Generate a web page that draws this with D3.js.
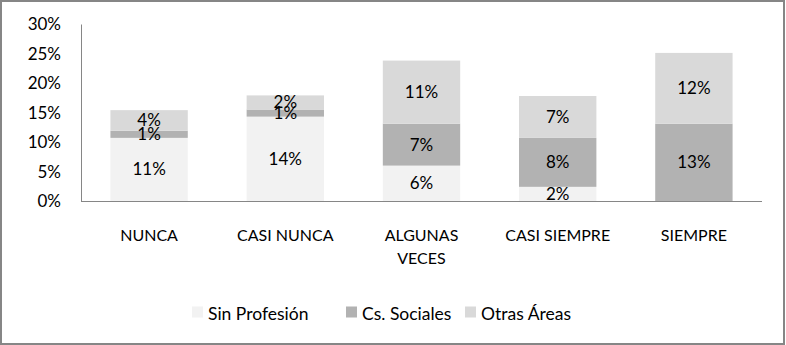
<!DOCTYPE html>
<html>
<head>
<meta charset="utf-8">
<script src="https://cdn.jsdelivr.net/npm/d3@7"></script>
<style>
  html, body { margin: 0; padding: 0; background: #fff; }
  svg { display: block; }
  text { font-family: Lato, sans-serif; font-weight: 400; fill: #000; }
</style>
</head>
<body>
<svg id="chart" width="786" height="345"></svg>
<script>
const categories = [["NUNCA"], ["CASI NUNCA"], ["ALGUNAS", "VECES"], ["CASI SIEMPRE"], ["SIEMPRE"]];
const seriesNames = ["Sin Profesión", "Cs. Sociales", "Otras Áreas"];
const sinProfesion = [0.107, 0.143, 0.060, 0.024, 0.000];
const csSociales   = [0.012, 0.012, 0.071, 0.083, 0.131];
const otrasAreas   = [0.035, 0.024, 0.107, 0.071, 0.120];
const dataLabels = [
  ["11%", "1%", "4%"],
  ["14%", "1%", "2%"],
  ["6%", "7%", "11%"],
  ["2%", "8%", "7%"],
  ["", "13%", "12%"]
];
const yTicks = [0, 0.05, 0.10, 0.15, 0.20, 0.25, 0.30];
const colors = ["#f2f2f2", "#b2b2b2", "#d9d9d9"];

const FONT = 'Lato, sans-serif';
const svg = d3.select("#chart");
const W = 786, H = 345;
const plot = { left: 81, right: 762, top: 24, bottom: 201 };

// outer border
svg.append("rect").attr("x", 1).attr("y", 1).attr("width", W - 3).attr("height", H - 2)
  .attr("fill", "#fff").attr("stroke", "#868686").attr("stroke-width", 2);

const keys = categories.map((c, i) => i);
const x = d3.scaleBand().domain(keys).range([plot.left, plot.right])
  .paddingInner(0.432).paddingOuter(0.216);
const y = d3.scaleLinear().domain([0, 0.30]).range([plot.bottom, plot.top]);

const rows = keys.map(i => ({ i, s0: sinProfesion[i], s1: csSociales[i], s2: otrasAreas[i] }));
const stack = d3.stack().keys(["s0", "s1", "s2"]);
const stacked = stack(rows);

svg.append("defs").append("clipPath").attr("id", "plotclip")
  .append("rect").attr("x", plot.left).attr("y", plot.top - 5)
  .attr("width", plot.right - plot.left).attr("height", plot.bottom - plot.top + 5);

const gBars = svg.append("g");
stacked.forEach((layer, si) => {
  gBars.selectAll(null).data(layer).join("rect")
    .attr("x", d => x(d.data.i))
    .attr("width", x.bandwidth())
    .attr("y", d => y(d[1]))
    .attr("height", d => Math.max(0, y(d[0]) - y(d[1])))
    .attr("fill", colors[si]);
});

// axes
const yAxis = d3.axisLeft(y).tickValues(yTicks).tickFormat(d3.format(".0%")).tickSize(0).tickPadding(20);
const gy = svg.append("g").attr("transform", `translate(${plot.left},0)`).call(yAxis);
gy.select(".domain").attr("stroke", "#868686");
gy.selectAll("text").attr("font-size", 17).attr("font-family", FONT).attr("font-weight", 400)
  .attr("fill", "#000").attr("dy", "0.35em");

const xAxis = d3.axisBottom(x).tickSize(0).tickFormat("");
const gx = svg.append("g").attr("transform", `translate(0,${plot.bottom})`).call(xAxis);
gx.select(".domain").attr("stroke", "#868686").attr("d", `M${plot.left},0.5H${plot.right}`);

// category labels
const gCat = svg.append("g");
keys.forEach(i => {
  const t = gCat.append("text").attr("x", x(i) + x.bandwidth() / 2).attr("y", 241)
    .attr("text-anchor", "middle").attr("font-size", 16);
  categories[i].forEach((line, li) => {
    t.append("tspan").attr("x", x(i) + x.bandwidth() / 2).attr("dy", li === 0 ? 0 : 23).text(line);
  });
});

// data labels
const gLab = svg.append("g").attr("clip-path", "url(#plotclip)");
stacked.forEach((layer, si) => {
  layer.forEach(d => {
    const txt = dataLabels[d.data.i][si];
    if (!txt) return;
    gLab.append("text")
      .attr("x", x(d.data.i) + x.bandwidth() / 2)
      .attr("y", (y(d[0]) + y(d[1])) / 2)
      .attr("dy", "0.35em")
      .attr("text-anchor", "middle")
      .attr("font-size", 17)
      .text(txt);
  });
});

// legend
const legendX = [192, 346, 465];
const gLeg = svg.append("g");
seriesNames.forEach((n, i) => {
  gLeg.append("rect").attr("x", legendX[i]).attr("y", 306.5).attr("width", 11).attr("height", 11).attr("fill", colors[i]);
  gLeg.append("text").attr("x", legendX[i] + 16).attr("y", 320).attr("font-size", 17.5).text(n);
});
</script>
</body>
</html>
